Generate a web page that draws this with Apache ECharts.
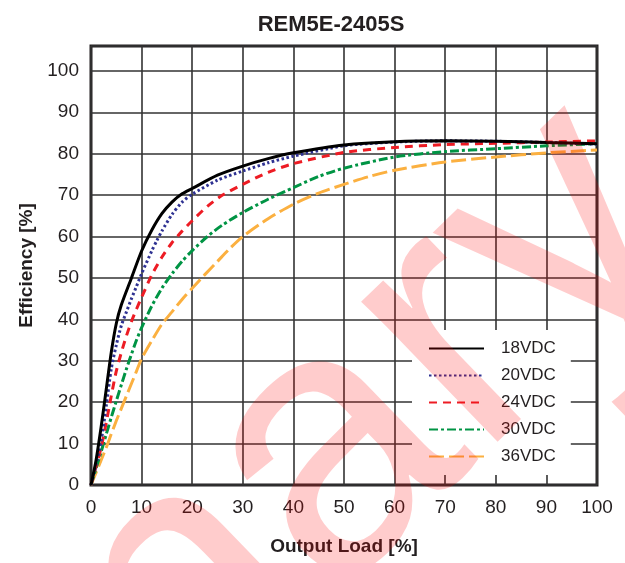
<!DOCTYPE html>
<html>
<head>
<meta charset="utf-8">
<script src="https://cdn.jsdelivr.net/npm/echarts@6/dist/echarts.min.js"></script>
<style>html,body{margin:0;padding:0;background:#fff}#c{width:625px;height:563px}</style>
</head>
<body>
<div id="c"></div>
<script>
const titleText = 'REM5E-2405S';
const xAxisName = 'Output Load [%]';
const yAxisName = 'Efficiency [%]';
const seriesNames = ['18VDC', '20VDC', '24VDC', '30VDC', '36VDC'];
const xTicks = [0, 10, 20, 30, 40, 50, 60, 70, 80, 90, 100];
const yTicks = [0, 10, 20, 30, 40, 50, 60, 70, 80, 90, 100];

const v18 = [[0,0],[1,6],[2,14],[3,23],[4,32],[5,39],[6,43.5],[8,50],[10,56.5],[12,61.5],[14,65.5],[16,68.3],[18,70.3],[20,71.6],[25,74.8],[30,77],[35,78.8],[40,80.2],[50,82.1],[60,82.9],[70,83.1],[80,83],[90,82.7],[100,82.4]];
const v20 = [[0,0],[1,5],[2,10.5],[3,19],[4,28],[5,33.8],[6,38.5],[7,41.8],[8,45],[9,48],[10,51],[12,56.5],[13,59],[14,61.3],[16,65.3],[18,68.3],[20,70.2],[25,73.6],[30,75.8],[35,77.8],[40,79.4],[50,81.9],[60,82.8],[70,83.1],[80,83],[90,82.7],[100,82.3]];
const v24 = [[0,0],[1,4.5],[2,9],[3,15],[4,21.5],[5,27.5],[6,32],[7,36],[8,39.5],[9,42.5],[10,45.3],[12,50.7],[14,55],[16,58.5],[18,61.3],[20,63.8],[23,67.3],[26,70],[30,72.6],[35,75.5],[40,77.6],[50,80.3],[60,81.5],[70,82.2],[80,82.5],[90,82.8],[100,83.1]];
const v30 = [[0,0],[1,4],[2,8],[3,12.2],[4,16.3],[5,20.3],[6,24.2],[7,28],[8,31.6],[9,35],[10,38],[12,43.2],[14,47.5],[16,51],[18,54],[20,56.6],[23,60],[26,62.8],[30,65.8],[35,69],[40,71.8],[45,74.5],[50,76.5],[60,79.2],[70,80.5],[80,81.2],[90,81.9],[100,82.4]];
const v36 = [[0,0],[1,3],[2,6],[3,9],[4,12.3],[5,15.5],[6,18.5],[7,21.5],[8,24.5],[9,27.5],[10,30.5],[12,34.8],[14,38.8],[16,41.8],[18,44.8],[20,47.5],[22.5,50.8],[25,54],[27.5,57.2],[30,60],[35,64.3],[40,67.8],[45,70.5],[50,72.6],[55,74.5],[60,76],[70,78],[80,79.2],[90,80.2],[100,80.9]];
const seriesValues = [v18, v20, v24, v30, v36];

const colors = ['#000000', '#2E3192', '#ED1C24', '#009444', '#FBB040'];
const dashes = ['solid', [2.5, 2.5], [8, 6], [9, 3, 3, 3], [15, 5]];

const FONT = "'Liberation Sans', Arial, sans-serif";

const chart = echarts.init(document.getElementById('c'), null, {renderer: 'canvas'});
chart.setOption({
  animation: false,
  backgroundColor: '#fff',
  title: {
    text: titleText, left: 326, top: 9, textAlign: 'center',
    textStyle: {fontFamily: FONT, fontSize: 22, fontWeight: 'bold', color: '#231F20'}
  },
  grid: {
    left: 91, right: 28, top: 46, bottom: 78,
    show: true, borderColor: '#231F20', borderWidth: 3, backgroundColor: 'transparent'
  },
  legend: {
    orient: 'vertical', left: 412, top: 330,
    padding: [10, 15, 10, 16],
    backgroundColor: '#fff',
    itemWidth: 55, itemHeight: 16, itemGap: 10,
    itemStyle: {opacity: 0},
    data: seriesNames,
    textStyle: {fontFamily: FONT, fontSize: 17, color: '#231F20', lineHeight: 16, padding: [0, 0, 0, 12]}
  },
  xAxis: {
    type: 'value', min: 0, max: 100, interval: 10,
    name: xAxisName, nameLocation: 'middle', nameGap: 52,
    nameTextStyle: {fontFamily: FONT, fontSize: 19, fontWeight: 'bold', color: '#231F20'},
    axisLine: {show: false}, axisTick: {show: false},
    axisLabel: {fontFamily: FONT, fontSize: 19, color: '#231F20', margin: 13,
      formatter: v => xTicks.includes(v) ? String(v) : ''},
    splitLine: {show: true, lineStyle: {color: '#333333', width: 1.6}}
  },
  yAxis: {
    type: 'value', min: 0, max: 106, interval: 10,
    name: yAxisName, nameLocation: 'middle', nameGap: 52, nameRotate: 90,
    nameTextStyle: {fontFamily: FONT, fontSize: 19, fontWeight: 'bold', color: '#231F20'},
    axisLine: {show: false}, axisTick: {show: false},
    axisLabel: {fontFamily: FONT, fontSize: 19, color: '#231F20', margin: 12,
      formatter: v => yTicks.includes(v) ? String(v) : ''},
    splitLine: {show: true, lineStyle: {color: '#333333', width: 1.6}}
  },
  series: seriesNames.map((n, i) => ({
    name: n, type: 'line', data: seriesValues[i],
    symbol: 'none', smooth: 0.25,
    color: colors[i],
    lineStyle: {color: colors[i], width: 3, type: dashes[i], cap: 'butt'},
    z: 10 - i
  })),
  graphic: [{
    type: 'text', x: 630, y: 172, rotation: 44 * Math.PI / 180, z: 100, silent: true,
    style: {text: 'Preliminary', font: "370px 'Liberation Sans', sans-serif",
      fill: 'rgba(255,0,0,0.2)', textAlign: 'right', textVerticalAlign: 'middle'}
  }]
});
</script>
</body>
</html>
